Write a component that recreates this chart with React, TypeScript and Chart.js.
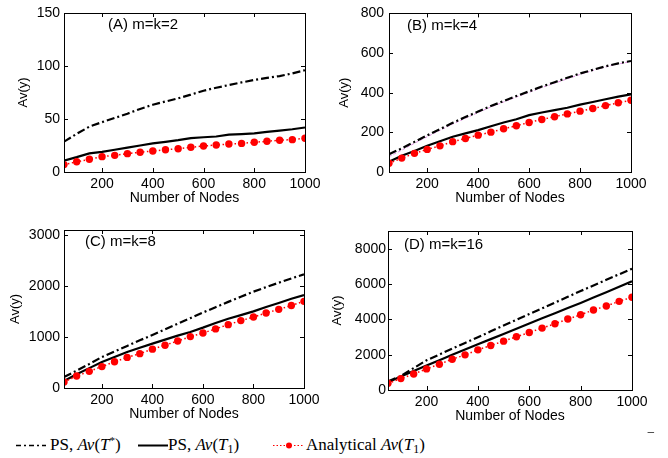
import React, { useEffect, useRef } from 'react';
import { Chart, registerables } from 'chart.js';
Chart.register(...registerables);

// ---------------- data ----------------
const nodes = [50, 100, 150, 200, 250, 300, 350, 400, 450, 500, 550, 600, 650, 700, 750, 800, 850, 900, 950, 1000];
const xTicks = [200, 400, 600, 800, 1000];

// (A) m=k=2
const aTStar = [28.6, 36, 42.8, 47, 51, 55, 59.5, 63.5, 66.5, 69.5, 73, 76.7, 79.5, 82, 84.5, 86.8, 88.8, 90.5, 93, 96];
const aT1 = [10.7, 14, 17.6, 19, 21, 23, 25, 27, 28.5, 30, 32, 32.8, 33.5, 35.2, 35.8, 36.5, 37.8, 39, 40.3, 42];
const aAnalytical = [7, 9.6, 12, 14.5, 15.7, 17.3, 18.6, 19.8, 21, 22, 23.3, 24.5, 25.5, 26.4, 27, 28, 29, 30, 30.5, 31.8];
const aYTicks = [0, 50, 100, 150];
const aYMax = 150;

// (B) m=k=4
const bTStar = [90, 119, 152, 185, 216, 248, 277, 305, 333, 358, 383, 407, 431, 453, 475, 497, 515, 533, 548, 560];
const bT1 = [52, 82, 106, 132, 155, 178, 195, 211, 231, 250, 266, 287, 300, 312, 324, 340, 353, 367, 380, 392];
const bAnalytical = [44, 70, 94, 114, 132, 153, 169, 186, 201, 218, 233, 250, 265, 279, 293, 307, 320, 335, 349, 362];
const bExtra = [78, 110, 145, 178, 210, 242, 271, 300, 328, 353, 378, 402, 426, 448, 470, 492, 512, 530, 545, 557];
const bYTicks = [0, 200, 400, 600, 800];
const bYMax = 800;

// (C) m=k=8
const cTStar = [216, 340, 470, 608, 715, 825, 935, 1040, 1150, 1260, 1370, 1480, 1585, 1690, 1790, 1890, 1980, 2065, 2150, 2229];
const cT1 = [137, 270, 390, 510, 610, 706, 790, 870, 950, 1027, 1100, 1184, 1275, 1360, 1430, 1503, 1590, 1667, 1750, 1825];
const cAnalytical = [118, 235, 327, 420, 515, 600, 674, 762, 840, 922, 1008, 1078, 1160, 1243, 1322, 1392, 1471, 1543, 1618, 1700];
const cYTicks = [0, 1000, 2000, 3000];
const cYMax = 3100;

// (D) m=k=16
const dTStar = [480, 790, 1240, 1680, 2010, 2340, 2665, 2990, 3320, 3650, 3975, 4300, 4625, 4950, 5275, 5600, 5920, 6240, 6550, 6860];
const dT1 = [436, 760, 1080, 1390, 1690, 1990, 2290, 2590, 2880, 3170, 3470, 3770, 4060, 4350, 4640, 4930, 5230, 5530, 5840, 6150];
const dAnalytical = [379, 644, 909, 1193, 1458, 1742, 1989, 2273, 2519, 2765, 3011, 3258, 3504, 3750, 4015, 4261, 4527, 4754, 5019, 5246];
const dYTicks = [0, 2000, 4000, 6000, 8000];
const dYMax = 9000;

const panelLabels = ['(A) m=k=2', '(B) m=k=4', '(C) m=k=8', '(D) m=k=16'];
const xTitle = 'Number of Nodes';
const yTitle = 'Av(y)';

// ---------------- styling / layout ----------------
const SANS = '"Liberation Sans", Arial, Helvetica, sans-serif';
const SERIF = '"Liberation Serif", "Times New Roman", serif';

type Rect = { left: number; top: number; w: number; h: number };
type Plot = { l: number; r: number; t: number; b: number };

const framePlugin = {
  id: 'frame',
  afterDraw(chart: any, _args: any, opts: any) {
    const { ctx, chartArea: a, scales } = chart;
    ctx.save();
    ctx.strokeStyle = '#000';
    ctx.lineWidth = 1;
    ctx.strokeRect(Math.round(a.left) + 0.5, Math.round(a.top) + 0.5, Math.round(a.right - a.left), Math.round(a.bottom - a.top));
    ctx.beginPath();
    const tl = 4;
    scales.x.ticks.forEach((t: any) => {
      const px = Math.round(scales.x.getPixelForValue(t.value)) + 0.5;
      if (px < a.right - 1) {
        ctx.moveTo(px, a.bottom); ctx.lineTo(px, a.bottom - tl);
        ctx.moveTo(px, a.top); ctx.lineTo(px, a.top + tl);
      }
    });
    scales.y.ticks.forEach((t: any) => {
      const py = Math.round(scales.y.getPixelForValue(t.value)) + 0.5;
      if (py > a.top + 1 && py < a.bottom - 1) {
        ctx.moveTo(a.left, py); ctx.lineTo(a.left + tl, py);
        ctx.moveTo(a.right, py); ctx.lineTo(a.right - tl, py);
      }
    });
    ctx.stroke();
    ctx.fillStyle = '#000';
    ctx.font = `15px ${SANS}`;
    ctx.textBaseline = 'middle';
    ctx.textAlign = 'left';
    ctx.fillText(opts.label, a.left + opts.dx, a.top + opts.dy);
    ctx.restore();
  },
};

type PanelSpec = {
  label: string;
  tStar: number[];
  t1: number[];
  analytical: number[];
  extra?: number[];
  yTicks: number[];
  yMax: number;
  canvas: Rect;
  plot: Plot;
  yTitleX: number;
  yTickGap: number;
  labelDx: number;
  labelDy: number;
};

function Panel({ spec }: { spec: PanelSpec }) {
  const ref = useRef<HTMLCanvasElement>(null);
  useEffect(() => {
    const { canvas, plot } = spec;
    const padTop = plot.t - canvas.top;
    const padRight = canvas.left + canvas.w - plot.r;
    const yWidth = plot.l - canvas.left;
    const xHeight = canvas.top + canvas.h - plot.b;
    const yTitleLH = 13 * 1.2;
    const datasets: any[] = [
      {
        label: 'Analytical',
        data: spec.analytical,
        borderColor: '#ff0000',
        backgroundColor: '#ff0000',
        borderWidth: 1.5,
        borderDash: [1.5, 2.5],
        pointRadius: 3.7,
        pointBorderWidth: 0,
        pointBackgroundColor: '#ff0000',
      },
      {
        label: 'T1',
        data: spec.t1,
        borderColor: '#000',
        borderWidth: 2.2,
        pointRadius: 0,
      },
      {
        label: 'T*',
        data: spec.tStar,
        borderColor: '#000',
        borderWidth: 2.2,
        borderDash: [8, 3, 2, 3],
        pointRadius: 0,
      },
    ];
    if (spec.extra) {
      datasets.push({
        label: 'extra',
        data: spec.extra,
        borderColor: '#e38de3',
        borderWidth: 1,
        borderDash: [3, 2],
        pointRadius: 0,
      });
    }
    const chart = new Chart(ref.current!, {
      type: 'line',
      data: { labels: nodes, datasets: datasets.map((d) => ({ ...d, data: d.data.map((y: number, i: number) => ({ x: nodes[i], y })) })) },
      options: {
        animation: false,
        responsive: false,
        devicePixelRatio: 1,
        layout: { padding: { top: padTop, right: padRight, left: 0, bottom: 0 } },
        plugins: {
          legend: { display: false },
          tooltip: { enabled: false },
          frame: { label: spec.label, dx: spec.labelDx, dy: spec.labelDy },
        } as any,
        scales: {
          x: {
            type: 'linear',
            min: 50,
            max: 1000,
            afterBuildTicks: (s: any) => { s.ticks = xTicks.map((v) => ({ value: v })); },
            afterFit: (s: any) => { s.height = xHeight; },
            grid: { display: false, drawTicks: false },
            border: { display: false },
            ticks: { color: '#000', font: { family: SANS, size: 14 }, padding: 4, maxRotation: 0, autoSkip: false, callback: (v: any) => String(v) },
            title: { display: true, text: xTitle, color: '#000', font: { family: SANS, size: 14 }, padding: { top: 0, bottom: 3 } },
          },
          y: {
            type: 'linear',
            min: 0,
            max: spec.yMax,
            afterBuildTicks: (s: any) => { s.ticks = spec.yTicks.map((v) => ({ value: v })); },
            afterFit: (s: any) => { s.width = yWidth; },
            grid: { display: false, drawTicks: false },
            border: { display: false },
            ticks: { color: '#000', font: { family: SANS, size: 14 }, padding: spec.yTickGap, autoSkip: false, callback: (v: any) => String(v) },
            title: { display: true, text: yTitle, color: '#000', font: { family: SANS, size: 13 }, padding: { top: spec.yTitleX - (spec.canvas.left) - yTitleLH / 2, bottom: 0 } },
          },
        },
      },
      plugins: [framePlugin as any],
    });
    return () => chart.destroy();
  }, [spec]);
  const { canvas } = spec;
  return (
    <canvas
      ref={ref}
      width={canvas.w}
      height={canvas.h}
      style={{ position: 'absolute', left: canvas.left, top: canvas.top, width: canvas.w, height: canvas.h }}
    />
  );
}

const panels: PanelSpec[] = [
  {
    label: panelLabels[0], tStar: aTStar, t1: aT1, analytical: aAnalytical, yTicks: aYTicks, yMax: aYMax,
    canvas: { left: 0, top: 0, w: 334, h: 210 }, plot: { l: 64, r: 305, t: 13, b: 172 },
    yTitleX: 23, yTickGap: 4, labelDx: 44, labelDy: 12,
  },
  {
    label: panelLabels[1], tStar: bTStar, t1: bT1, analytical: bAnalytical, extra: bExtra, yTicks: bYTicks, yMax: bYMax,
    canvas: { left: 320, top: 0, w: 348, h: 210 }, plot: { l: 389, r: 631, t: 13, b: 172 },
    yTitleX: 344, yTickGap: 5, labelDx: 18, labelDy: 12,
  },
  {
    label: panelLabels[2], tStar: cTStar, t1: cT1, analytical: cAnalytical, yTicks: cYTicks, yMax: cYMax,
    canvas: { left: 0, top: 210, w: 334, h: 216 }, plot: { l: 64, r: 304, t: 230, b: 388 },
    yTitleX: 15, yTickGap: 4, labelDx: 21, labelDy: 12,
  },
  {
    label: panelLabels[3], tStar: dTStar, t1: dT1, analytical: dAnalytical, yTicks: dYTicks, yMax: dYMax,
    canvas: { left: 320, top: 210, w: 348, h: 218 }, plot: { l: 388, r: 632, t: 231, b: 390 },
    yTitleX: 337, yTickGap: 2, labelDx: 16, labelDy: 14,
  },
];

function Legend() {
  const base: React.CSSProperties = { position: 'absolute', top: 0, lineHeight: '24px', whiteSpace: 'nowrap' };
  const sup: React.CSSProperties = { fontSize: '0.65em', verticalAlign: '0.55em', lineHeight: 0 };
  const sub: React.CSSProperties = { fontSize: '0.7em', verticalAlign: '-0.25em', lineHeight: 0 };
  return (
    <div style={{ position: 'absolute', left: 0, top: 433, width: 668, height: 24, fontFamily: SERIF, fontSize: 17, color: '#000' }}>
      <svg style={{ position: 'absolute', left: 16, top: 0 }} width={30} height={24}>
        <line x1={0} y1={12.5} x2={30} y2={12.5} stroke="#000" strokeWidth={1.5} strokeDasharray="5,3,2,3" />
      </svg>
      <span style={{ ...base, left: 50 }}>PS, <i>Av</i>(<i>T</i><span style={sup}>*</span>)</span>
      <svg style={{ position: 'absolute', left: 138, top: 0 }} width={30} height={24}>
        <line x1={0} y1={12.5} x2={30} y2={12.5} stroke="#000" strokeWidth={2} />
      </svg>
      <span style={{ ...base, left: 168 }}>PS, <i>Av</i>(<i>T</i><span style={sub}>1</span>)</span>
      <svg style={{ position: 'absolute', left: 273, top: 0 }} width={30} height={24}>
        <line x1={0} y1={12.5} x2={30} y2={12.5} stroke="#ff0000" strokeWidth={1.2} strokeDasharray="1.5,2" />
        <circle cx={16} cy={12.5} r={3} fill="#ff0000" />
      </svg>
      <span style={{ ...base, left: 306 }}>Analytical <i>Av</i>(<i>T</i><span style={sub}>1</span>)</span>
      <span style={{ ...base, left: 647, top: -12, fontSize: 14 }}>−</span>
    </div>
  );
}

export default function App() {
  return (
    <div style={{ position: 'absolute', left: 0, top: 0, width: 668, height: 458, background: '#fff', overflow: 'hidden' }}>
      {panels.map((p) => (
        <Panel key={p.label} spec={p} />
      ))}
      <Legend />
    </div>
  );
}
